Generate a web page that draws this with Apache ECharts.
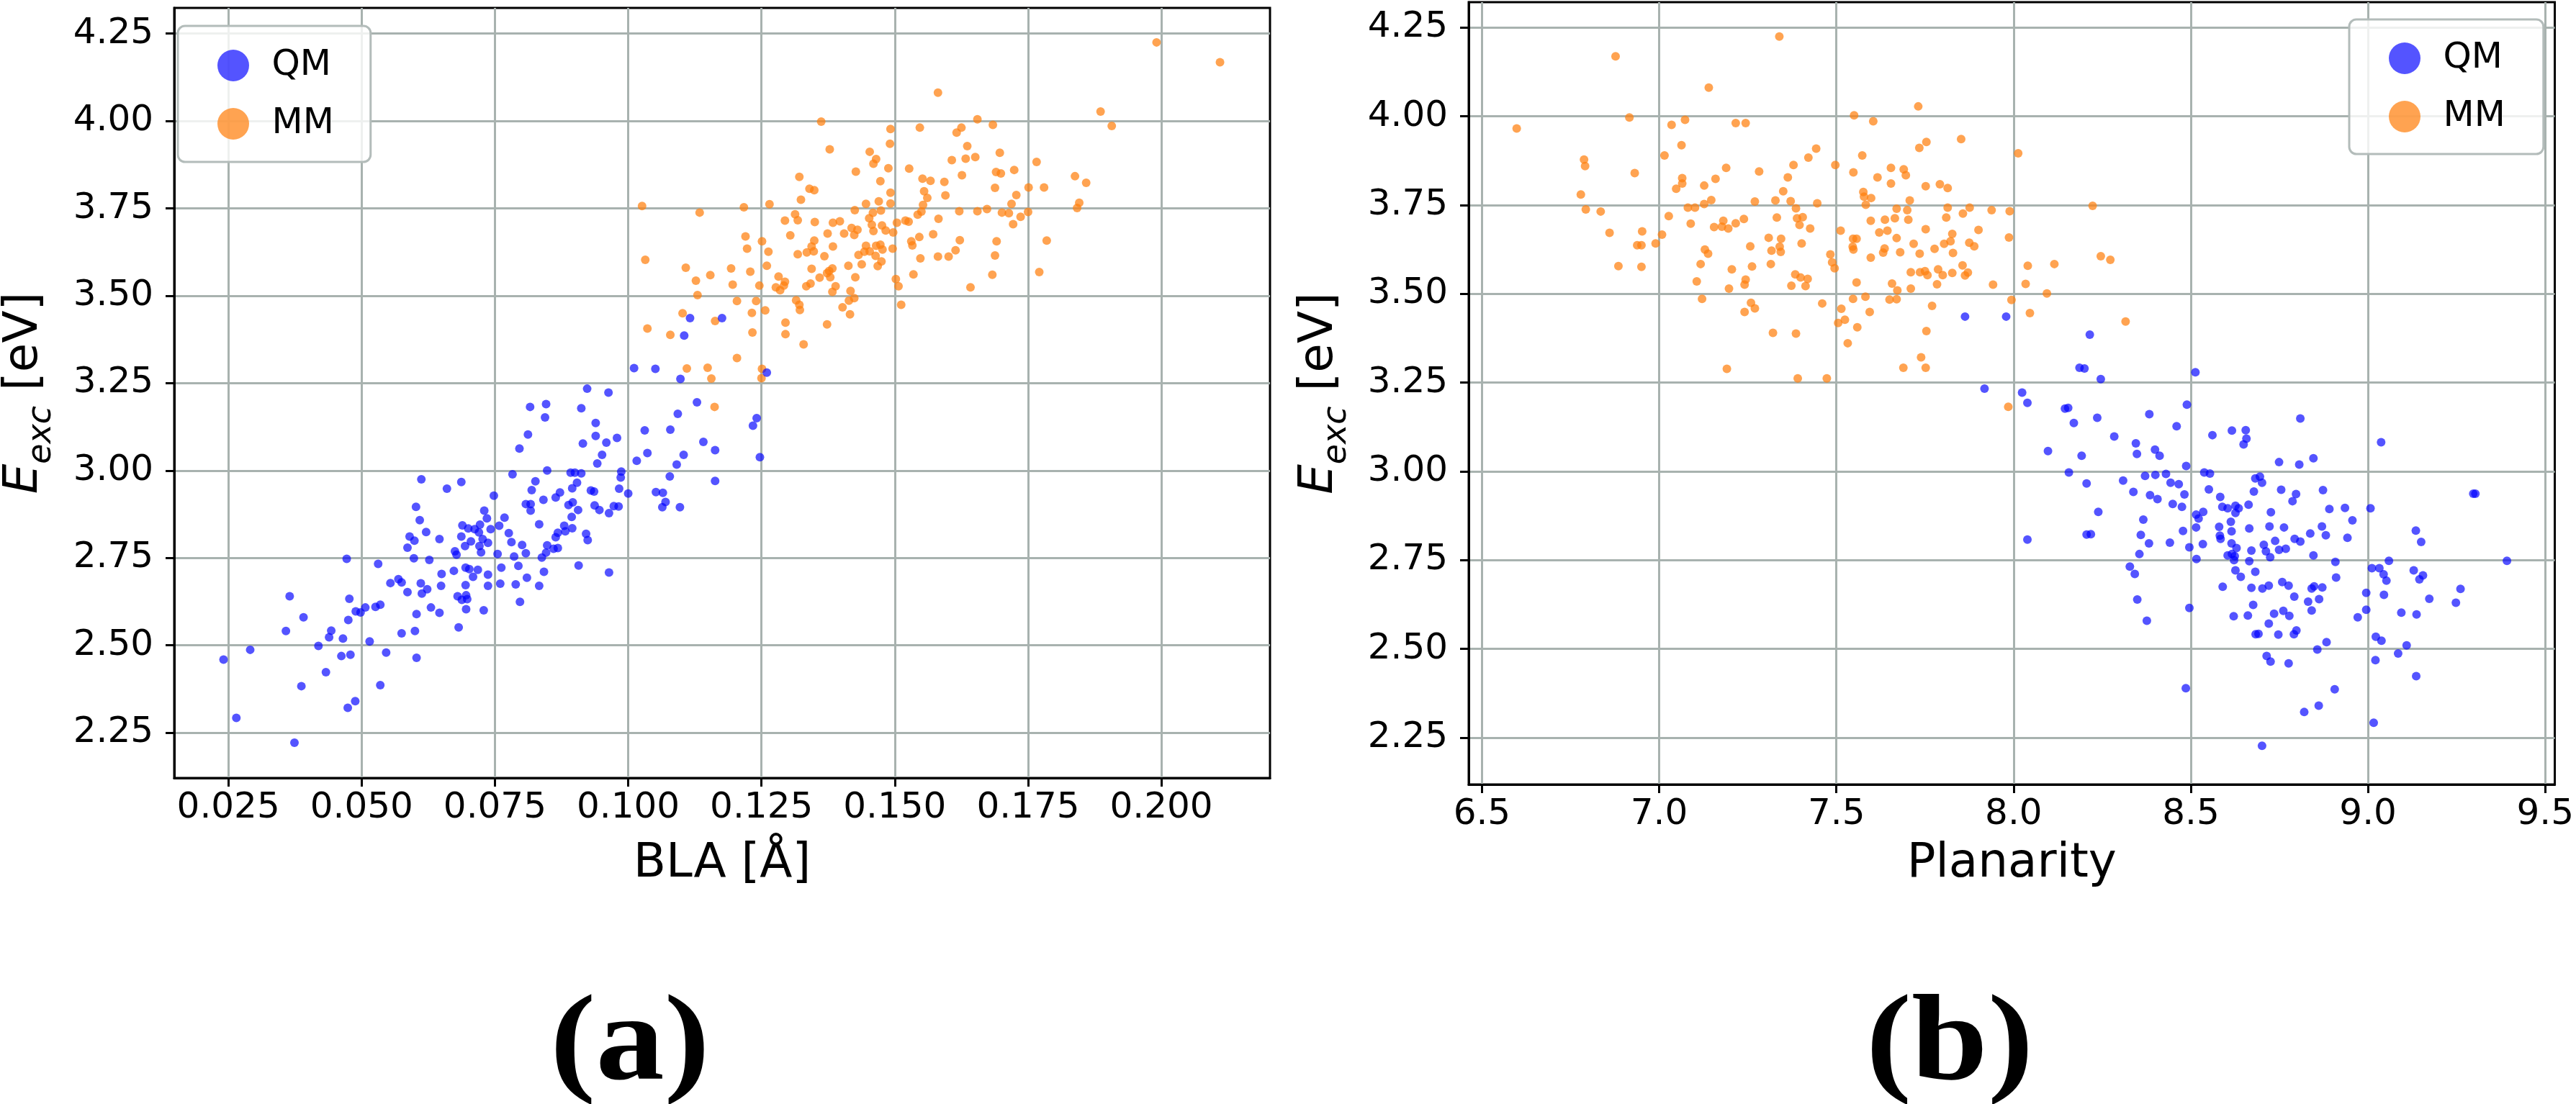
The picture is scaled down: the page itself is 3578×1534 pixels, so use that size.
<!DOCTYPE html>
<html>
<head>
<meta charset="utf-8">
<title>Excitation energy vs BLA / planarity</title>
<script src="https://cdn.jsdelivr.net/npm/echarts@6/dist/echarts.min.js"></script>
<style>
  html, body { margin: 0; padding: 0; background: #fff; }
  #chart { width: 3578px; height: 1534px; }
</style>
</head>
<body>
<div id="chart"></div>
<script>
// (a) E_exc vs BLA, (b) E_exc vs planarity

const seriesNames = ["QM", "MM"];
const panelLabels = ["(a)", "(b)"];

const blaTicks = [0.025, 0.05, 0.075, 0.1, 0.125, 0.15, 0.175, 0.2];
const planTicks = [6.5, 7.0, 7.5, 8.0, 8.5, 9.0, 9.5];
const energyTicks = [2.25, 2.5, 2.75, 3.0, 3.25, 3.5, 3.75, 4.0, 4.25];

// panel (a): [BLA, E_exc]
const blaQM = [
  [0.0241,2.459],[0.0265,2.292],[0.0291,2.487],[0.0374,2.221],[0.0365,2.640],[0.0358,2.541],[0.0391,2.580],[0.0387,2.383],
  [0.0419,2.498],[0.0433,2.423],[0.0439,2.523],[0.0443,2.542],[0.0465,2.519],[0.0462,2.469],[0.0479,2.473],[0.0475,2.572],
  [0.0477,2.633],[0.0472,2.747],[0.0474,2.321],[0.0488,2.340],[0.0489,2.597],[0.0498,2.594],[0.0507,2.608],[0.0515,2.511],
  [0.0526,2.610],[0.0535,2.616],[0.0531,2.733],[0.0535,2.386],[0.0546,2.479],[0.0554,2.678],[0.0569,2.689],[0.0575,2.680],
  [0.0586,2.652],[0.0575,2.534],[0.0600,2.541],[0.0603,2.464],[0.0603,2.589],[0.0611,2.677],[0.0613,2.648],[0.0623,2.660],
  [0.0630,2.608],[0.0646,2.593],[0.0649,2.670],[0.0650,2.704],[0.0586,2.779],[0.0590,2.811],[0.0599,2.799],[0.0598,2.749],
  [0.0602,2.896],[0.0609,2.858],[0.0612,2.975],[0.0621,2.824],[0.0627,2.744],[0.0646,2.804],[0.0660,2.948],[0.0687,2.967],
  [0.0673,2.713],[0.0675,2.769],[0.0678,2.759],[0.0682,2.551],[0.0680,2.640],[0.0688,2.630],[0.0696,2.643],[0.0698,2.632],
  [0.0696,2.603],[0.0695,2.672],[0.0695,2.722],[0.0702,2.718],[0.0709,2.696],[0.0718,2.716],[0.0729,2.600],[0.0737,2.670],
  [0.0737,2.702],[0.0760,2.676],[0.0762,2.722],[0.0755,2.761],[0.0789,2.674],[0.0797,2.624],[0.0794,2.727],[0.0786,2.754],
  [0.0687,2.811],[0.0694,2.784],[0.0705,2.797],[0.0689,2.843],[0.0700,2.834],[0.0712,2.832],[0.0720,2.823],[0.0722,2.845],
  [0.0727,2.804],[0.0721,2.784],[0.0724,2.766],[0.0737,2.793],[0.0742,2.832],[0.0735,2.863],[0.0730,2.885],[0.0748,2.928],
  [0.0758,2.842],[0.0768,2.865],[0.0776,2.821],[0.0781,2.795],[0.0783,2.989],[0.0796,3.063],
  [0.0812,3.103],[0.0816,3.182],[0.0846,3.190],[0.0844,3.152],[0.0848,3.000],[0.0826,2.969],[0.0819,2.944],[0.0841,2.916],
  [0.0808,2.904],[0.0817,2.904],[0.0817,2.885],[0.0801,2.787],[0.0808,2.763],[0.0833,2.846],[0.0864,2.923],[0.0872,2.937],
  [0.0848,2.786],[0.0846,2.765],[0.0838,2.751],[0.0842,2.710],[0.0810,2.693],[0.0833,2.670],[0.0860,2.776],[0.0868,2.778],
  [0.0864,2.809],[0.0868,2.822],[0.0880,2.842],[0.0882,2.826],[0.0895,2.835],[0.0894,2.867],[0.0888,2.901],[0.0896,2.909],
  [0.0906,2.887],[0.0895,2.949],[0.0904,2.965],[0.0892,2.994],[0.0900,2.994],[0.0912,2.992],[0.0930,2.943],[0.0936,2.940],
  [0.0937,2.900],[0.0946,2.887],[0.0964,2.878],[0.0973,2.898],[0.0982,2.897],[0.0983,2.948],[0.0986,2.980],[0.0987,2.997],
  [0.1000,2.934],[0.0942,3.020],[0.0951,3.045],[0.0939,3.099],[0.0959,3.080],[0.0979,3.093],[0.0915,3.077],[0.0939,3.136],
  [0.0912,3.178],[0.0923,3.234],[0.0963,3.223],[0.0921,2.819],[0.0924,2.801],[0.0907,2.728],[0.0964,2.708],[0.1016,3.028],
  [0.1036,3.050],[0.1031,3.115],[0.1079,3.117],[0.1093,3.162],[0.1129,3.195],[0.1104,3.045],[0.1091,3.017],[0.1078,2.983],
  [0.1052,2.938],[0.1065,2.936],[0.1070,2.910],[0.1064,2.895],[0.1097,2.895],[0.1141,3.082],[0.1163,3.058],[0.1163,2.970],
  [0.1234,3.128],[0.1241,3.150],[0.1247,3.038],[0.1011,3.293],[0.1051,3.291],[0.1098,3.262],[0.1105,3.386],[0.1116,3.436],
  [0.1176,3.436],[0.1260,3.280]
];

const blaMM = [
  [0.1581,4.081],[0.1362,3.998],[0.1655,4.005],[0.1492,3.977],[0.1547,3.981],[0.1625,3.981],[0.1616,3.967],[0.1491,3.935],
  [0.1378,3.919],[0.1453,3.912],[0.1465,3.891],[0.1460,3.878],[0.1636,3.928],[0.1607,3.888],[0.1633,3.892],[0.1651,3.897],
  [0.1488,3.865],[0.1527,3.864],[0.1427,3.855],[0.1626,3.845],[0.1321,3.840],[0.1473,3.828],[0.1552,3.835],[0.1567,3.829],
  [0.1593,3.826],[0.1340,3.806],[0.1349,3.802],[0.1492,3.795],[0.1555,3.799],[0.1561,3.780],[0.1595,3.787],[0.1324,3.775],
  [0.1470,3.770],[0.1446,3.763],[0.1492,3.764],[0.1553,3.760],[0.1026,3.757],[0.1217,3.753],[0.1265,3.762],[0.1425,3.745],
  [0.1474,3.744],[0.1621,3.742],[0.1655,3.742],[0.1543,3.732],[0.1550,3.741],[0.1134,3.738],[0.1459,3.737],[0.1313,3.733],
  [0.1294,3.715],[0.1318,3.716],[0.1350,3.711],[0.1384,3.709],[0.1397,3.713],[0.1452,3.722],[0.1504,3.709],[0.1520,3.715],
  [0.1526,3.712],[0.1582,3.720],[0.1457,3.703],[0.1476,3.701],[0.1419,3.694],[0.1430,3.689],[0.1460,3.685],[0.1483,3.687],
  [0.1497,3.681],[0.1374,3.678],[0.1405,3.678],[0.1424,3.674],[0.1304,3.673],[0.1572,3.676],[0.1546,3.668],[0.1220,3.670],
  [0.1251,3.656],[0.1349,3.658],[0.1531,3.656],[0.1622,3.659],[0.1533,3.644],[0.1384,3.641],[0.1344,3.641],[0.1446,3.643],
  [0.1465,3.643],[0.1473,3.646],[0.1223,3.635],[0.1263,3.626],[0.1335,3.624],[0.1348,3.627],[0.1477,3.632],[0.1496,3.635],
  [0.1318,3.619],[0.1368,3.613],[0.1432,3.617],[0.1443,3.626],[0.1453,3.627],[0.1464,3.614],[0.1614,3.630],[0.1548,3.607],
  [0.1581,3.612],[0.1601,3.612],[0.1032,3.603],[0.1475,3.598],[0.1260,3.586],[0.1108,3.580],[0.1193,3.578],[0.1344,3.577],
  [0.1413,3.586],[0.1438,3.590],[0.1468,3.585],[0.1229,3.569],[0.1377,3.571],[0.1383,3.578],[0.1373,3.565],[0.1154,3.559],
  [0.1282,3.555],[0.1359,3.552],[0.1379,3.553],[0.1426,3.553],[0.1535,3.561],[0.1127,3.543],[0.1294,3.540],[0.1196,3.532],
  [0.1246,3.529],[0.1342,3.535],[0.1502,3.548],[0.1507,3.527],[0.1642,3.524],[0.1277,3.524],[0.1292,3.529],[0.1334,3.527],
  [0.1389,3.527],[0.1285,3.516],[0.1383,3.511],[0.1417,3.514],[0.1130,3.502],[0.1204,3.485],[0.1240,3.485],[0.1315,3.487],
  [0.1321,3.474],[0.1322,3.459],[0.1414,3.486],[0.1424,3.493],[0.1402,3.467],[0.1416,3.447],[0.1512,3.474],[0.1102,3.450],
  [0.1232,3.451],[0.1257,3.458],[0.1163,3.428],[0.1036,3.406],[0.1079,3.388],[0.1233,3.395],[0.1295,3.423],[0.1295,3.390],
  [0.1373,3.418],[0.1329,3.361],[0.1204,3.322],[0.1110,3.292],[0.1149,3.294],[0.1156,3.263],[0.1251,3.291],[0.1250,3.264],
  [0.1162,3.182],
  [0.1991,4.225],[0.2110,4.168],[0.1886,4.027],[0.1907,3.986],[0.1684,3.989],[0.1697,3.909],[0.1766,3.883],[0.1724,3.860],
  [0.1690,3.854],[0.1699,3.850],[0.1688,3.809],[0.1751,3.810],[0.1780,3.810],[0.1838,3.842],[0.1859,3.823],[0.1728,3.788],
  [0.1719,3.763],[0.1846,3.766],[0.1842,3.751],[0.1673,3.748],[0.1701,3.738],[0.1714,3.736],[0.1736,3.726],[0.1750,3.740],
  [0.1722,3.705],[0.1691,3.656],[0.1688,3.615],[0.1683,3.560],[0.1785,3.658],[0.1771,3.568]
];

// panel (b): [planarity, E_exc]
const planQM = [
  [7.863,3.436],[7.979,3.436],[7.918,3.233],
  [8.215,3.385],[8.186,3.292],[8.200,3.290],[8.246,3.260],[8.513,3.279],[8.024,3.222],[8.039,3.193],[8.145,3.177],
  [8.154,3.179],[8.489,3.188],[8.236,3.151],[8.383,3.161],[8.170,3.136],[8.460,3.127],[8.284,3.098],[8.561,3.102],
  [8.616,3.115],[8.655,3.116],[8.657,3.092],[8.649,3.076],[8.097,3.057],[8.192,3.044],[8.345,3.079],[8.348,3.049],
  [8.399,3.061],[8.412,3.044],[8.487,3.015],[8.156,2.997],[8.538,2.997],[8.554,2.994],[8.682,2.980],[8.309,2.974],
  [8.371,2.987],[8.400,2.990],[8.430,2.993],[8.206,2.966],[8.443,2.968],[8.466,2.964],[8.551,2.949],[8.678,2.943],
  [8.338,2.942],[8.385,2.933],[8.406,2.922],[8.482,2.935],[8.583,2.928],[8.449,2.908],[8.475,2.900],[8.589,2.900],
  [8.604,2.896],[8.626,2.903],[8.635,2.896],[8.663,2.906],[8.626,2.883],[8.239,2.886],[8.515,2.878],[8.522,2.867],
  [8.535,2.886],[8.366,2.864],[8.613,2.858],[8.515,2.842],[8.580,2.844],[8.665,2.839],[8.478,2.832],[8.615,2.831],
  [8.206,2.822],[8.218,2.823],[8.359,2.821],[8.582,2.819],[8.584,2.810],[8.382,2.797],[8.441,2.799],[8.534,2.795],
  [8.039,2.808],[8.615,2.797],[8.496,2.786],[8.629,2.784],[8.671,2.777],[8.355,2.767],[8.604,2.763],[8.616,2.767],
  [8.624,2.761],[8.516,2.753],[8.622,2.750],[8.665,2.747],[8.328,2.732],[8.342,2.711],[8.626,2.721],[8.641,2.703],
  [8.682,2.717],[8.590,2.675],[8.671,2.672],[8.349,2.639],[8.496,2.615],[8.676,2.624],[8.376,2.579],[8.621,2.592],
  [8.661,2.594],[8.683,2.541],[8.486,2.389],
  [8.809,3.149],[9.037,3.082],[8.749,3.026],[8.806,3.019],[8.846,3.037],[8.695,2.985],[8.701,2.968],[8.755,2.948],
  [8.797,2.936],[8.787,2.916],[8.873,2.947],[8.891,2.894],[8.935,2.897],[9.007,2.896],[8.956,2.862],[8.726,2.885],
  [8.722,2.845],[8.763,2.842],[8.870,2.845],[8.881,2.820],[8.942,2.813],[8.837,2.825],[8.793,2.810],[8.809,2.802],
  [8.738,2.804],[8.706,2.793],[8.749,2.779],[8.768,2.782],[8.712,2.775],[8.724,2.758],[8.846,2.763],[8.908,2.745],
  [9.135,2.833],[9.150,2.801],[9.297,2.937],[9.303,2.937],[9.392,2.748],[9.059,2.748],[9.011,2.727],[9.032,2.727],
  [9.044,2.710],[9.052,2.692],[9.129,2.721],[9.155,2.707],[9.145,2.696],[8.995,2.658],[9.045,2.652],[9.173,2.641],
  [9.261,2.669],[9.248,2.630],[8.995,2.610],[8.971,2.589],[9.094,2.602],[9.137,2.597],[8.910,2.701],[8.871,2.673],
  [8.848,2.676],[8.841,2.670],[8.862,2.640],[8.831,2.633],[8.841,2.608],[8.792,2.647],[8.758,2.688],[8.776,2.678],
  [8.720,2.678],[8.702,2.670],[8.735,2.599],[8.761,2.607],[8.778,2.593],[8.720,2.571],[8.798,2.552],[8.791,2.541],
  [8.747,2.540],[8.691,2.542],[8.883,2.519],[8.857,2.498],[9.022,2.534],[9.038,2.523],[9.109,2.510],[9.085,2.487],
  [9.021,2.468],[8.714,2.480],[8.725,2.464],[8.776,2.459],[9.136,2.423],[8.906,2.386],[8.861,2.340],[8.820,2.322],
  [9.016,2.292],[8.701,2.227]
];

const planMM = [
  [6.877,4.169],[6.598,3.966],[6.916,3.997],[7.035,3.976],[7.073,3.990],[7.063,3.919],[7.015,3.890],[6.788,3.878],
  [6.791,3.860],[6.931,3.840],[7.065,3.826],[7.065,3.811],[7.048,3.796],[6.779,3.780],[6.793,3.738],[6.835,3.732],
  [7.027,3.719],[7.081,3.743],[7.101,3.743],[7.089,3.698],[6.860,3.672],[6.952,3.676],[7.008,3.667],[6.938,3.637],
  [6.950,3.637],[6.990,3.642],[6.885,3.578],[6.950,3.576],
  [7.216,3.981],[7.244,3.981],[7.189,3.855],[7.282,3.845],[7.127,3.805],[7.159,3.824],[7.147,3.764],[7.127,3.753],
  [7.270,3.760],[7.328,3.763],[7.350,3.789],[7.363,3.828],[7.379,3.863],[7.371,3.761],[7.386,3.741],[7.421,3.884],
  [7.443,3.909],[7.446,3.755],[7.497,3.863],[7.155,3.688],[7.181,3.706],[7.177,3.689],[7.195,3.684],[7.216,3.699],
  [7.239,3.711],[7.332,3.715],[7.389,3.713],[7.405,3.716],[7.396,3.694],[7.426,3.684],[7.309,3.658],[7.344,3.655],
  [7.340,3.633],[7.343,3.618],[7.317,3.622],[7.257,3.634],[7.402,3.642],[7.129,3.625],[7.138,3.613],[7.117,3.584],
  [7.315,3.584],[7.205,3.569],[7.262,3.577],[7.106,3.535],[7.244,3.540],[7.241,3.526],[7.197,3.515],[7.384,3.555],
  [7.399,3.546],[7.419,3.542],[7.373,3.523],[7.413,3.522],[7.483,3.611],[7.488,3.589],[7.495,3.572],[7.121,3.486],
  [7.259,3.475],[7.270,3.459],[7.241,3.449],[7.460,3.473],[7.321,3.390],[7.386,3.388],[7.191,3.289],[7.391,3.262],
  [7.473,3.262],
  [7.550,4.003],[7.604,3.986],[7.852,3.936],[7.734,3.911],[7.754,3.928],[7.573,3.890],[7.548,3.842],[7.654,3.855],
  [7.690,3.851],[7.696,3.834],[7.616,3.828],[7.654,3.811],[7.752,3.803],[7.792,3.809],[7.814,3.798],[7.576,3.787],
  [7.598,3.770],[7.578,3.774],[7.583,3.751],[7.707,3.763],[7.670,3.740],[7.700,3.736],[7.814,3.743],[7.857,3.726],
  [7.876,3.743],[7.938,3.736],[7.989,3.733],[7.512,3.678],[7.597,3.706],[7.637,3.709],[7.665,3.713],[7.703,3.709],
  [7.810,3.715],[7.621,3.673],[7.644,3.678],[7.752,3.682],[7.901,3.680],[7.827,3.669],[7.987,3.659],[7.547,3.655],
  [7.557,3.655],[7.670,3.657],[7.822,3.648],[7.804,3.641],[7.875,3.644],[7.889,3.634],[7.718,3.641],[7.777,3.627],
  [7.546,3.633],[7.548,3.625],[7.636,3.628],[7.632,3.616],[7.680,3.617],[7.735,3.613],[7.829,3.615],[7.597,3.602],
  [7.856,3.580],[7.710,3.561],[7.736,3.561],[7.750,3.564],[7.757,3.553],[7.787,3.569],[7.800,3.553],[7.827,3.559],
  [7.863,3.552],[7.871,3.560],[7.557,3.532],[7.657,3.529],[7.672,3.510],[7.710,3.515],[7.784,3.527],[7.942,3.526],
  [7.547,3.486],[7.582,3.492],[7.650,3.484],[7.670,3.485],[7.770,3.466],[7.994,3.483],[7.514,3.458],[7.594,3.449],
  [7.505,3.418],[7.524,3.427],[7.559,3.406],[7.532,3.361],[7.754,3.395],[7.739,3.321],[7.689,3.292],[7.752,3.292],
  [7.985,3.182],
  [7.339,4.225],[7.140,4.081],[7.731,4.028],[8.013,3.896],[8.223,3.748],[8.040,3.579],[8.115,3.584],[8.246,3.606],
  [8.273,3.596],[8.034,3.528],[8.094,3.501],[8.046,3.446],[8.316,3.422]
];

const QM_COLOR = "rgba(0, 0, 255, 0.84)";
const MM_COLOR = "rgba(255, 127, 14, 0.9)";
const GRID_COLOR = "#a8b2af";
const FONT = "DejaVu Sans";

function valueAxis(gridIndex, min, max, ticks, digits, name, nameGap, isY) {
  return {
    type: "value",
    gridIndex: gridIndex,
    min: min,
    max: max,
    name: name,
    nameLocation: "middle",
    nameGap: nameGap,
    nameTextStyle: {
      fontFamily: FONT,
      fontSize: 66,
      color: "#000",
      rich: {
        e: { fontFamily: FONT, fontSize: 66, fontStyle: "italic", verticalAlign: "bottom", padding: [0, 0, 14, 0] },
        s: { fontFamily: FONT, fontSize: 46, fontStyle: "italic", verticalAlign: "bottom" },
        n: { fontFamily: FONT, fontSize: 66, verticalAlign: "bottom", padding: [0, 0, 14, 0] }
      }
    },
    axisLine: { show: true, lineStyle: { color: "#000", width: 3 } },
    axisTick: {
      show: true,
      length: 12,
      customValues: ticks,
      lineStyle: { color: "#000", width: 3 }
    },
    axisLabel: {
      customValues: ticks,
      formatter: function (v) { return v.toFixed(digits); },
      fontFamily: FONT,
      fontSize: 50,
      color: "#000",
      margin: isY ? 29 : 17
    },
    splitLine: { show: true, lineStyle: { color: GRID_COLOR, width: 3 } }
  };
}

// icon sits at the left of the item, text starts itemWidth + 5 further on
function legendBox(left, top, padding, gap) {
  return {
    orient: "vertical",
    left: left,
    top: top,
    data: seriesNames,
    icon: "circle",
    itemWidth: 97,
    itemHeight: 44,
    itemGap: gap,
    padding: padding,
    selectedMode: false,
    backgroundColor: "rgba(255,255,255,0.8)",
    borderColor: "#b3bcba",
    borderWidth: 3,
    borderRadius: 10,
    textStyle: { fontFamily: FONT, fontSize: 50, color: "#000", lineHeight: 44 }
  };
}

function scatter(name, data, color, axisIdx) {
  return {
    name: name,
    type: "scatter",
    xAxisIndex: axisIdx,
    yAxisIndex: axisIdx,
    data: data,
    symbol: "circle",
    symbolSize: 12,
    itemStyle: { color: color },
    emphasis: { disabled: true }
  };
}

const chart = echarts.init(document.getElementById("chart"));

chart.setOption({
  backgroundColor: "#fff",
  animation: false,
  grid: [
    { left: 221, top: 11, width: 1543, height: 1070, show: true, borderColor: "#000", borderWidth: 3 },
    { left: 2040, top: 3, width: 1515, height: 1087, show: true, borderColor: "#000", borderWidth: 3 }
  ],
  xAxis: [
    valueAxis(0, 0.01485, 0.22038, blaTicks, 3, "BLA [Å]", 87, false),
    valueAxis(1, 6.4626, 9.527, planTicks, 1, "Planarity", 78, false)
  ],
  yAxis: [
    valueAxis(0, 2.1202, 4.3236, energyTicks, 2, "{e|E}{s|exc}{n| [eV]}", 161, true),
    valueAxis(1, 2.118, 4.3217, energyTicks, 2, "{e|E}{s|exc}{n| [eV]}", 160, true)
  ],
  legend: [
    legendBox(247, 36, [30, 51, 28, 55], 31),
    legendBox(3263, 27, [29, 53, 27, 55], 31)
  ],
  // MM first so the QM points sit on top
  series: [
    scatter("MM", blaMM, MM_COLOR, 0),
    scatter("QM", blaQM, QM_COLOR, 0),
    scatter("MM", planMM, MM_COLOR, 1),
    scatter("QM", planQM, QM_COLOR, 1)
  ],
  graphic: [
    {
      type: "text", x: 875, y: 1455, scaleX: 1.12,
      style: { text: panelLabels[0], align: "center", verticalAlign: "middle",
               font: 'bold 170px "Liberation Serif"', fill: "#000" }
    },
    {
      type: "text", x: 2708, y: 1455, scaleX: 1.12,
      style: { text: panelLabels[1], align: "center", verticalAlign: "middle",
               font: 'bold 170px "Liberation Serif"', fill: "#000" }
    }
  ]
});
</script>
</body>
</html>
